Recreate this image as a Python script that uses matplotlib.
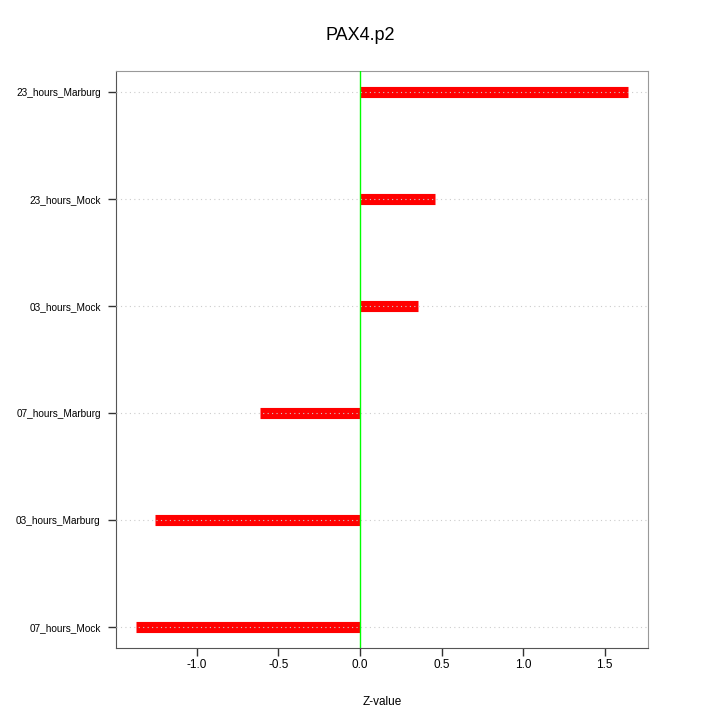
import matplotlib
matplotlib.use('Agg')
import matplotlib.pyplot as plt

plt.rcParams['font.family'] = ['Liberation Sans', 'DejaVu Sans']

# dados
amostras = ['07_hours_Mock', '03_hours_Marburg', '07_hours_Marburg',
            '03_hours_Mock', '23_hours_Mock', '23_hours_Marburg']
zvalores = [-1.374, -1.258, -0.613, 0.356, 0.46, 1.644]

fig = plt.figure(figsize=(7.2, 7.2), dpi=100)
ax = fig.add_axes([0.1611, 0.1, 0.7389, 0.8014])

posicoes = list(range(1, len(amostras) + 1))

# barras como linhas grossas do zero até o valor
for y, z in zip(posicoes, zvalores):
    ax.plot([0, z], [y, y], color='#ff0000', linewidth=8, solid_capstyle='butt', zorder=2)

# grade pontilhada por cima
for y in posicoes:
    ax.axhline(y, color='#cccccc', linestyle=(0, (1, 3)), linewidth=0.8, zorder=3)

ax.axvline(0, color='#00ff00', linewidth=1, zorder=4)

lo = min(min(zvalores), 0)
hi = max(max(zvalores), 0)
pad = (hi - lo) * 0.04
ax.set_xlim(lo - pad, hi + pad)
ax.set_ylim(0.8, 6.2)

ax.set_yticks(posicoes)
ax.set_yticklabels(amostras, fontsize=7.2)
ax.set_xticks([-1.0, -0.5, 0.0, 0.5, 1.0, 1.5])
ax.set_xticklabels(['-1.0', '-0.5', '0.0', '0.5', '1.0', '1.5'], fontsize=8.5)
ax.tick_params(direction='out', length=6, width=1, colors='#333333', labelcolor='black')
ax.tick_params(axis='x', pad=2)
ax.tick_params(axis='y', pad=5)

for lado in ['top', 'right']:
    ax.spines[lado].set_color('#999999')
for lado in ['left', 'bottom']:
    ax.spines[lado].set_color('#555555')

ax.set_xlabel('Z-value', fontsize=8.5, labelpad=18)
fig.suptitle('PAX4.p2', y=0.962, fontsize=13)

fig.savefig('out.png', dpi=100)
